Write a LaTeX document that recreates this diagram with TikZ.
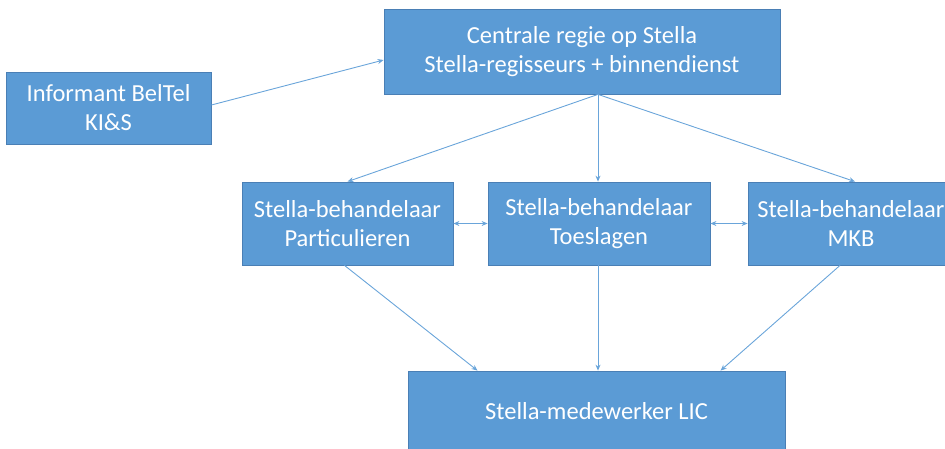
\documentclass[tikz,border=0pt]{standalone}
\usepackage{fontspec}
\setmainfont{Carlito}
\usetikzlibrary{arrows.meta,calc}
\definecolor{boxfill}{HTML}{5B9BD5}
\definecolor{boxline}{HTML}{4A7FB5}
\definecolor{arrowc}{HTML}{6AA5DA}
\tikzset{
  box/.style={draw=boxline, line width=0.8pt, fill=boxfill, text=white, align=center,
    inner sep=0pt, font=\fontsize{24.5}{29}\selectfont},
  conn/.style={draw=arrowc, line width=0.9pt, -{Stealth[length=6pt,width=5pt]}},
  dconn/.style={draw=arrowc, line width=0.9pt, {Stealth[length=6pt,width=5pt]}-{Stealth[length=6pt,width=5pt]}}
}
\begin{document}
\begin{tikzpicture}[x=1pt,y=-1pt]
\useasboundingbox (0,0) rectangle (945,448);
\clip (0,0) rectangle (945,448);
\node[box, minimum width=396pt, minimum height=85pt] (cen) at (582,51.5) {Centrale regie op Stella\\Stella-regisseurs + binnendienst};
\node[box, minimum width=205pt, minimum height=72pt] (inf) at (108.5,108) {Informant BelTel\\KI\&S};
\node[box, minimum width=211pt, minimum height=83pt] (par) at (347.5,223.5) {Stella-behandelaar\\Particulieren};
\node[box, minimum width=222pt, minimum height=83pt] (toe) at (599,223.5) {Stella-behandelaar\\Toeslagen};
\node[box, minimum width=206pt, minimum height=83pt] (mkb) at (851,223.5) {Stella-behandelaar\\MKB};
\node[box, minimum width=377pt, minimum height=80pt] (lic) at (596.5,411) {Stella-medewerker LIC};
\coordinate (cs) at ($(cen.south)+(16,0)$);
\draw[conn] (inf.east |- 0,105) -- (cen.west |- 0,60);
\draw[conn] (cs) -- (par.north);
\draw[conn] (cs) -- (toe.north -| cs);
\draw[conn] (cs) -- ($(mkb.north)+(4,0)$);
\draw[dconn] (par.east) -- (toe.west);
\draw[dconn] (toe.east) -- (mkb.west);
\draw[conn] ($(par.south)+(-3,0)$) -- ($(lic.north)+(-119,0)$);
\draw[conn] (toe.south -| cs) -- (lic.north -| cs);
\draw[conn] ($(mkb.south)+(-11,0)$) -- ($(lic.north)+(124,0)$);
\end{tikzpicture}
\end{document}
